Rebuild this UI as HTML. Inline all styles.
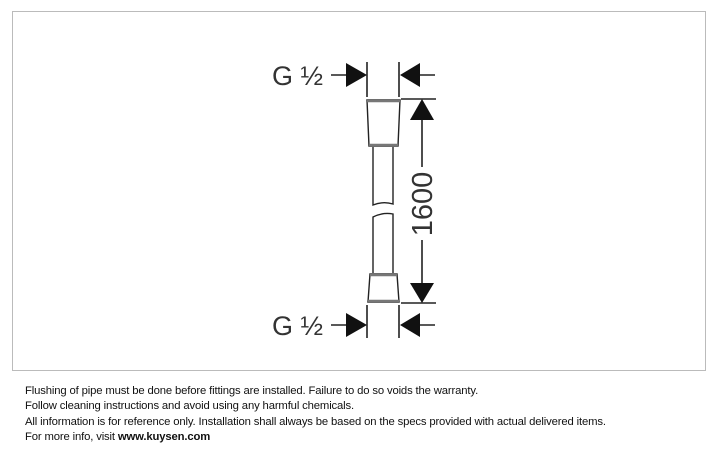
<!DOCTYPE html>
<html><head><meta charset="utf-8"><style>
body{margin:0;background:#fff;width:718px;height:452px;overflow:hidden;position:relative;font-family:"Liberation Sans",sans-serif}
.box{position:absolute;left:12px;top:11px;width:692px;height:358px;border:1px solid #bbb}
.ft{position:absolute;left:25px;top:384px;font-size:11.3px;line-height:15.3px;color:#111;letter-spacing:-0.15px}
</style></head><body>
<div class="box"></div>
<svg width="718" height="452" style="position:absolute;left:0;top:0" font-family="Liberation Sans, sans-serif">
<g stroke="#222" stroke-width="1.6" fill="none">
<line x1="367" y1="62" x2="367" y2="97"/><line x1="399" y1="62" x2="399" y2="97"/>
<line x1="367" y1="305" x2="367" y2="338"/><line x1="399" y1="305" x2="399" y2="338"/>
<line x1="331" y1="75" x2="348" y2="75"/><line x1="413" y1="75" x2="435" y2="75"/>
<line x1="331" y1="325" x2="348" y2="325"/><line x1="413" y1="325" x2="435" y2="325"/>
<line x1="401" y1="99" x2="436" y2="99"/><line x1="401" y1="303" x2="436" y2="303"/>
<line x1="422" y1="118" x2="422" y2="167"/><line x1="422" y1="240" x2="422" y2="285"/>
<path d="M367,100 L400,100 L398,146 L369,146 Z" stroke-width="1.4"/>
<line x1="367" y1="101" x2="400" y2="101" stroke-width="2.5" stroke="#777"/>
<line x1="369" y1="145" x2="398" y2="145" stroke-width="2.5" stroke="#777"/>
<path d="M373,147 L373,205 Q383,201 393,204 L393,147" stroke-width="1.4"/>
<path d="M373,273 L373,217 Q383,212 393,214 L393,273" stroke-width="1.4"/>
<path d="M370,274 L397,274 L399,302 L368,302 Z" stroke-width="1.4"/>
<line x1="370" y1="275" x2="397" y2="275" stroke-width="2.5" stroke="#777"/>
<line x1="368" y1="301" x2="399" y2="301" stroke-width="2.5" stroke="#777"/>
</g>
<g fill="#111">
<polygon points="346,63 367,75 346,87"/><polygon points="420,63 400,75 420,87"/>
<polygon points="346,313 367,325 346,337"/><polygon points="420,313 400,325 420,337"/>
<polygon points="422,99 410,120 434,120"/><polygon points="422,303 410,283 434,283"/>
</g>
<g fill="#333" font-size="27">
<text x="272" y="85">G ½</text>
<text x="272" y="335">G ½</text>
<text transform="translate(432,204) rotate(-90)" text-anchor="middle" font-size="29">1600</text>
</g>
</svg>
<div class="ft">Flushing of pipe must be done before fittings are installed. Failure to do so voids the warranty.<br>Follow cleaning instructions and avoid using any harmful chemicals.<br>All information is for reference only. Installation shall always be based on the specs provided with actual delivered items.<br>For more info, visit <b>www.kuysen.com</b></div>
</body></html>
